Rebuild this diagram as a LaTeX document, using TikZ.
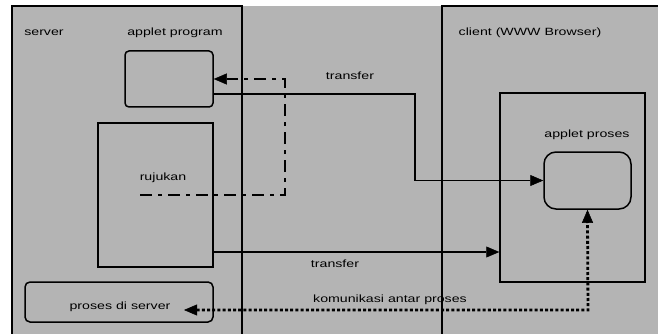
\documentclass[tikz,border=0pt]{standalone}
\usepackage{fontspec}
\setmainfont{Liberation Sans}[FakeStretch=1.35]
\usetikzlibrary{arrows.meta,calc}
\definecolor{bg}{HTML}{B4B4B4}
\tikzset{
  frame/.style={line width=1.5pt},
  box/.style={draw, line width=1.5pt, inner sep=0pt},
  lbl/.style={font=\fontsize{10.5}{12}\selectfont, inner sep=0pt},
  conn/.style={line width=1.4pt},
  arrowhead/.tip={Triangle[length=13pt 0 0,width=11pt 0 0,fill=black,line width=0.5pt]},
  tip/.style={-arrowhead},
  dashdotline/.style={conn, dash pattern=on 12pt off 6pt on 4pt off 6pt},
  dotline/.style={line width=2.8pt, dash pattern=on 3pt off 2.2pt}
}
\begin{document}
\begin{tikzpicture}[x=1pt,y=-1pt]
\useasboundingbox (0,0) rectangle (658,334);
\fill[white] (0,0) rectangle (658,334);
\fill[bg] (12,6) rectangle (658,334);
\begin{scope}
\clip (0,0) rectangle (658,334);
% server and client regions
\draw[frame] (12,340) -- (12,6) -- (242,6) -- (242,340);
\draw[frame] (442,340) -- (442,6) -- (670,6);
\end{scope}
% labels
\node[lbl] (lserver) at (44,33) {server};
\node[lbl] (lprog) at (175,33) {applet program};
\node[lbl] (lclient) at (530,33) {client (WWW Browser)};
\node[lbl] (ltr1) at (350,76) {transfer};
\node[lbl] (lruj) at (163,178) {rujukan};
\node[lbl] (lapr) at (587,135) {applet proses};
\node[lbl] (ltr2) at (335,264) {transfer};
\node[lbl] (lkom) at (390,300) {komunikasi antar proses};
% boxes
\node[box, rounded corners=4pt, minimum width=88pt, minimum height=56pt] (prog) at (169,79) {};
\node[box, minimum width=115pt, minimum height=144pt] (ruj) at (155.5,195) {};
\node[box, minimum width=145pt, minimum height=189pt] (inner) at (572.5,187.5) {};
\node[box, rounded corners=12pt, minimum width=87pt, minimum height=57pt] (apr) at (587.5,180.5) {};
\node[box, rounded corners=5pt, minimum width=188pt, minimum height=40pt] (pserv) at (119,302) {};
\node[lbl] (lps) at (120,307) {proses di server};
% connectors
\coordinate (d0) at (140,195);
\coordinate (dc) at (285,79);
\draw[dashdotline, tip] (d0) -| (dc) -- (prog.east);
\coordinate (t1) at ($(prog.east)+(0,15)$);
\coordinate (t1c) at (415,94);
\draw[conn, tip] (t1) -- (t1c) |- (apr.west);
\coordinate (t2) at ($(ruj.east)+(0,57)$);
\draw[conn, tip] (t2) -- (t2 -| inner.west);
\coordinate (kc) at (588,310);
\coordinate (kend) at (184,310);
\draw[dotline] (apr.south |- 0,220) -- (kc) -- (197,310);
\draw[conn, arrowhead-] (apr.south) -- ++(0,11);
\draw[conn, tip] (198,310) -- (kend);
\end{tikzpicture}
\end{document}
